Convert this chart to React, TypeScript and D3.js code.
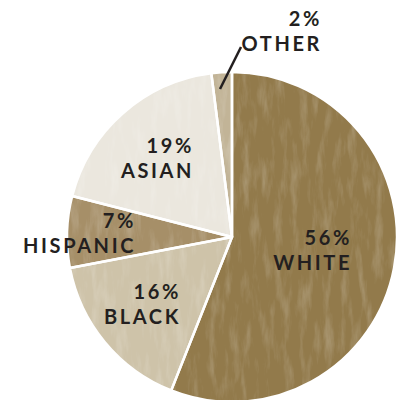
import React from "react";
import * as d3 from "d3";

const categories = ["WHITE", "BLACK", "HISPANIC", "ASIAN", "OTHER"];
const values = [56, 16, 7, 19, 2];
const colors = ["#927a4b", "#cec3a9", "#a68f68", "#ebe7de", "#c2b497"];
// label anchor positions (right-aligned text)
const labelPos: [number, number][] = [
  [352, 245],
  [181, 299],
  [136, 228],
  [194, 153],
  [322, 26],
];

export default function App() {
  const W = 400, H = 400;
  const cx = 232, cy = 237, r = 165;
  const pie = d3.pie<number>().sort(null).value((d) => d)(values);
  const arc = d3.arc<d3.PieArcDatum<number>>().innerRadius(0).outerRadius(r);
  const fontStyle: React.CSSProperties = {
    fontFamily: "Lato, 'Open Sans', sans-serif",
    fontWeight: 700,
    fontSize: 20,
    letterSpacing: 2.6,
    fill: "#231f20",
  };
  return (
    <svg width={W} height={H} style={{ position: "fixed", left: 0, top: 0 }}>
      <defs>
        <filter id="grunge" x="0" y="0" width="100%" height="100%">
          <feTurbulence type="fractalNoise" baseFrequency="0.12 0.025" numOctaves="4" seed="7" result="n" />
          <feColorMatrix
            in="n"
            type="matrix"
            values="0 0 0 0 1  0 0 0 0 1  0 0 0 0 1  1.6 0 0 0 -0.75"
          />
        </filter>
        <clipPath id="pieclip">
          <circle cx={cx} cy={cy} r={r} />
        </clipPath>
      </defs>
      <rect width={W} height={H} fill="#fff" />
      <g transform={`translate(${cx},${cy})`}>
        {pie.map((d, i) => (
          <path key={categories[i]} d={arc(d) || ""} fill={colors[i]} />
        ))}
      </g>
      <g clipPath="url(#pieclip)" opacity={0.3}>
        <rect x={cx - r} y={cy - r} width={2 * r} height={2 * r} filter="url(#grunge)" />
      </g>
      <g transform={`translate(${cx},${cy})`}>
        {pie.map((d, i) => (
          <path key={"s" + i} d={arc(d) || ""} fill="none" stroke="#fff" strokeWidth={2.5} strokeLinejoin="round" />
        ))}
      </g>
      <line x1={241} y1={47} x2={220} y2={89} stroke="#231f20" strokeWidth={2.5} />
      {categories.map((c, i) => (
        <text key={c} x={labelPos[i][0]} y={labelPos[i][1]} textAnchor="end" style={fontStyle}>
          <tspan x={labelPos[i][0]}>{values[i]}%</tspan>
          <tspan x={labelPos[i][0]} dy={24.5}>{c}</tspan>
        </text>
      ))}
    </svg>
  );
}
